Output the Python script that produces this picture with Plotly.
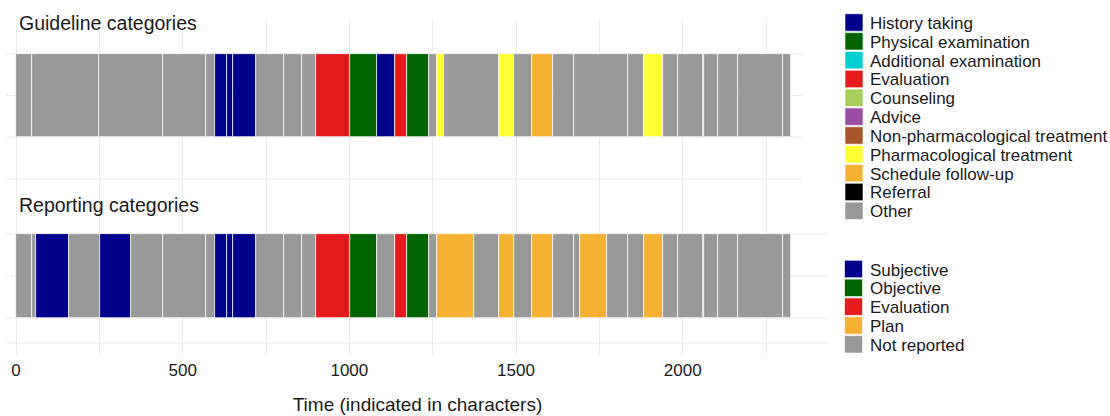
import plotly.graph_objects as go

# ---------------- data ----------------
guideline_categories = ["History taking", "Physical examination", "Additional examination",
                        "Evaluation", "Counseling", "Advice", "Non-pharmacological treatment",
                        "Pharmacological treatment", "Schedule follow-up", "Referral", "Other"]
guideline_colors = ["#00008B", "#006400", "#00CED1", "#E41A1C", "#A6CE5C", "#984EA3",
                    "#A65628", "#FFFF33", "#F4B132", "#000000", "#999999"]

reporting_categories = ["Subjective", "Objective", "Evaluation", "Plan", "Not reported"]
reporting_colors = ["#00008B", "#006400", "#E41A1C", "#F4B132", "#999999"]

guideline_start = [0, 49, 250, 442, 570, 598, 634, 652, 720, 804, 859, 900, 1001, 1084, 1138,
                   1173, 1239, 1262, 1283, 1449, 1493, 1547, 1612, 1675, 1835, 1885, 1940,
                   1987, 2060, 2065, 2105, 2167, 2302]
guideline_end = [49, 250, 442, 570, 598, 634, 652, 720, 804, 859, 900, 1001, 1084, 1138, 1173,
                 1239, 1262, 1283, 1449, 1493, 1547, 1612, 1675, 1835, 1885, 1940, 1987,
                 2060, 2065, 2105, 2167, 2302, 2324]
guideline_cat = ["Other", "Other", "Other", "Other", "Other", "History taking", "History taking",
                 "History taking", "Other", "Other", "Other", "Evaluation", "Physical examination",
                 "History taking", "Evaluation", "Physical examination", "Other",
                 "Pharmacological treatment", "Other", "Pharmacological treatment", "Other",
                 "Schedule follow-up", "Other", "Other", "Other", "Pharmacological treatment",
                 "Other", "Other", "Other", "Other", "Other", "Other", "Other"]

reporting_start = [0, 49, 59, 158, 252, 346, 442, 570, 598, 634, 652, 720, 804, 859, 900, 1001,
                   1084, 1138, 1173, 1239, 1262, 1374, 1449, 1493, 1547, 1612, 1675, 1692, 1774,
                   1835, 1885, 1940, 1987, 2060, 2065, 2105, 2167, 2302]
reporting_end = [49, 59, 158, 252, 346, 442, 570, 598, 634, 652, 720, 804, 859, 900, 1001, 1084,
                 1138, 1173, 1239, 1262, 1374, 1449, 1493, 1547, 1612, 1675, 1692, 1774, 1835,
                 1885, 1940, 1987, 2060, 2065, 2105, 2167, 2302, 2324]
reporting_cat = ["Not reported", "Not reported", "Subjective", "Not reported", "Subjective",
                 "Not reported", "Not reported", "Not reported", "Subjective", "Subjective",
                 "Subjective", "Not reported", "Not reported", "Not reported", "Evaluation",
                 "Objective", "Not reported", "Evaluation", "Objective", "Not reported", "Plan",
                 "Not reported", "Plan", "Not reported", "Plan", "Not reported", "Not reported",
                 "Plan", "Not reported", "Not reported", "Plan", "Not reported", "Not reported",
                 "Not reported", "Not reported", "Not reported", "Not reported", "Not reported"]

panel_titles = ["Guideline categories", "Reporting categories"]
x_ticks = [0, 500, 1000, 1500, 2000]
x_label = "Time (indicated in characters)"

# ---------------- layout helpers ----------------
W, H = 1110, 416
TOP, BOTTOM = 20, 355
FONT = "Liberation Sans, Arial, sans-serif"


def py(p):  # pixel row -> paper y
    return (BOTTOM - p) / (BOTTOM - TOP)


def px(p):  # pixel column -> paper x
    return p / W


fig = go.Figure()

g_map = dict(zip(guideline_categories, guideline_colors))
r_map = dict(zip(reporting_categories, reporting_colors))

bar_w = 0.463
fig.add_trace(go.Bar(
    y=[panel_titles[0]] * len(guideline_start),
    base=guideline_start,
    x=[e - s for s, e in zip(guideline_start, guideline_end)],
    orientation="h", width=bar_w,
    marker=dict(color=[g_map[c] for c in guideline_cat], line=dict(color="white", width=0.7)),
    customdata=guideline_cat, hovertemplate="%{customdata}<extra></extra>",
    showlegend=False))
fig.add_trace(go.Bar(
    y=[panel_titles[1]] * len(reporting_start),
    base=reporting_start,
    x=[e - s for s, e in zip(reporting_start, reporting_end)],
    orientation="h", width=bar_w,
    marker=dict(color=[r_map[c] for c in reporting_cat], line=dict(color="white", width=0.7)),
    customdata=reporting_cat, hovertemplate="%{customdata}<extra></extra>",
    showlegend=False))

shapes = []
annotations = []
grid_col = "#EBEBEB"
# horizontal grid lines
for p in [54, 95.5, 137, 179]:
    shapes.append(dict(type="line", xref="paper", yref="paper", x0=px(6), x1=px(803),
                       y0=py(p), y1=py(p), line=dict(color=grid_col, width=1), layer="below"))
for p in [234, 276, 318, 343]:
    shapes.append(dict(type="line", xref="paper", yref="paper", x0=px(6), x1=px(829),
                       y0=py(p), y1=py(p), line=dict(color=grid_col, width=1), layer="below"))

# panel titles
for t, p in zip(panel_titles, [22.5, 204.5]):
    annotations.append(dict(text=t, xref="paper", yref="paper", x=px(17), y=py(p),
                            xanchor="left", yanchor="middle", showarrow=False,
                            font=dict(family=FONT, size=19.5, color="#1a1a1a")))

# legends (manual, to match spacing)
def legend(cats, cols, x0, y0, step=18.83):
    for i, (c, col) in enumerate(zip(cats, cols)):
        yc = y0 + i * step
        shapes.append(dict(type="rect", xref="paper", yref="paper",
                           x0=px(x0), x1=px(x0 + 18), y0=py(yc - 8.7), y1=py(yc + 8.7),
                           fillcolor=col, line=dict(color="white", width=0.6)))
        annotations.append(dict(text=c, xref="paper", yref="paper", x=px(x0 + 23), y=py(yc + 1),
                                xanchor="left", yanchor="middle", showarrow=False,
                                font=dict(family=FONT, size=17, color="#1a1a1a")))


legend(guideline_categories, guideline_colors, 845, 22.5)
legend(reporting_categories, reporting_colors, 844.5, 269)

fig.update_layout(
    width=W, height=H,
    margin=dict(l=0, r=0, t=TOP, b=H - BOTTOM),
    plot_bgcolor="white", paper_bgcolor="white",
    barmode="overlay", bargap=0,
    font=dict(family=FONT, color="#1a1a1a"),
    shapes=shapes, annotations=annotations,
    xaxis=dict(domain=[px(6), px(829)], range=[-30, 2439],
               tickvals=x_ticks, ticktext=[str(v) for v in x_ticks],
               tickfont=dict(family=FONT, size=17, color="#1a1a1a"),
               ticklabelstandoff=3,
               showgrid=True, gridcolor=grid_col, gridwidth=1,
               minor=dict(dtick=250, tick0=0, showgrid=True, gridcolor=grid_col, gridwidth=1),
               zeroline=False, showline=False, ticks="",
               title=dict(text=x_label, font=dict(family=FONT, size=19, color="#1a1a1a"),
                          standoff=18)),
    yaxis=dict(type="category", categoryarray=[panel_titles[1], panel_titles[0]],
               range=[-0.4377, 1.4183], showticklabels=False, showgrid=False,
               zeroline=False, showline=False, ticks=""),
)

fig.write_html("out.html", config={"displayModeBar": False},
               post_script="document.body.style.margin='0';document.body.style.padding='0';")
